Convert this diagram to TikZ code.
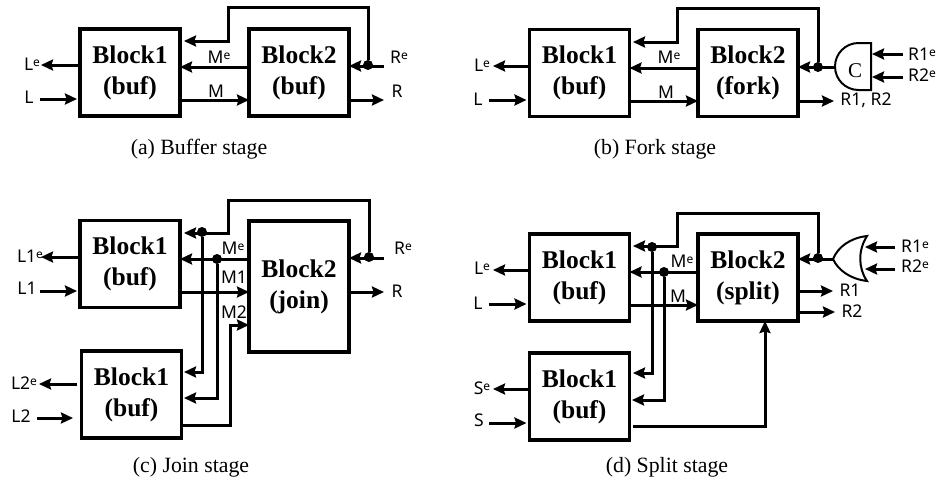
\documentclass[tikz,border=0pt]{standalone}
\usepackage{fontspec}
\setmainfont{Liberation Serif}
\newfontfamily\siglabel{Noto Sans}
\usetikzlibrary{arrows.meta,calc}
\newcommand{\supe}{\raisebox{4pt}{\fontsize{12}{12}\selectfont e}}
\begin{document}
\begin{tikzpicture}[x=1pt,y=-1pt,
  block/.style={draw=black,line width=3.4pt,minimum width=100pt,minimum height=87pt,
                inner sep=0pt,outer sep=0pt,align=center,
                font=\fontsize{25.5}{31}\selectfont\bfseries},
  wire/.style={draw=black,line width=3pt,-{Stealth[length=12pt,width=11pt,inset=1.5pt]}},
  short/.style={shorten >=3pt},
  dot/.style={circle,fill=black,inner sep=0pt,minimum size=10pt},
  sig/.style={inner sep=0pt,font=\siglabel\fontsize{17.5}{18}\selectfont},
  gate/.style={draw=black,line width=2pt},
  stagecap/.style={inner sep=0pt,font=\fontsize{21.8}{24}\selectfont}]
  \useasboundingbox (0,0) rectangle (940,483);

  \node[block] (a1) at (130,72.5) {Block1\\(buf)};
  \node[block] (a2) at (299,72.5) {Block2\\(buf)};
  \node[dot] (aDot) at (368,65) {};
  \coordinate (aTop) at (228,7);
  \coordinate (aFb) at (184,41);
  \coordinate (aMe) at (220,67);
  \coordinate (aM) at (220,100);
  \coordinate (aLo) at (41,65);
  \coordinate (aLi) at (40,99);
  \coordinate (aRe) at (384,66);
  \coordinate (aRo) at (384,100);
  \draw[wire] (aDot) |- (aTop) |- (aFb);
  \draw[wire] (a2.west |- aMe) -- (a1.east |- aMe);
  \draw[wire] (a1.east |- aM) -- (a2.west |- aM);
  \draw[wire] (aLo -| a1.west) -- (aLo);
  \draw[wire,short] (aLi) -- (aLi -| a1.west);
  \draw[wire] (aRe) -- (aRe -| a2.east);
  \draw[wire] (aRo -| a2.east) -- (aRo);
  \node[sig] (aLeT) at (32,64) {L\supe};
  \node[sig] (aLT) at (29,97) {L};
  \node[sig] (aMeT) at (219,57) {M\supe};
  \node[sig] (aMT) at (216,91) {M};
  \node[sig] (aReT) at (399,57) {R\supe};
  \node[sig] (aRT) at (397,91) {R};
  \node[stagecap] (aCap) at (199,149) {(a) Buffer stage};

  \node[block] (b1) at (579.5,73) {Block1\\(buf)};
  \node[block] (b2) at (748,73) {Block2\\(fork)};
  \node[dot] (bDot) at (818,67) {};
  \node[font=\fontsize{21}{24}\selectfont,inner sep=0pt] (bC) at (855,71) {C};
  \draw[gate] (871,43) -- (858.5,43) arc[start angle=90,end angle=270,radius=23.5pt] -- (871,90) -- cycle;
  \coordinate (bTop) at (677,8);
  \coordinate (bFb) at (633,42);
  \coordinate (bMe) at (660,68);
  \coordinate (bM) at (660,101);
  \coordinate (bLo) at (493,66);
  \coordinate (bLi) at (489,100);
  \coordinate (bGo) at (835,67);
  \coordinate (bRo) at (834,101);
  \coordinate (bRa) at (903,54);
  \coordinate (bGa) at (872,54);
  \coordinate (bRb) at (903,77);
  \coordinate (bGb) at (872,77);
  \draw[wire] (bDot) |- (bTop) |- (bFb);
  \draw[wire] (b2.west |- bMe) -- (b1.east |- bMe);
  \draw[wire] (b1.east |- bM) -- (b2.west |- bM);
  \draw[wire] (bLo -| b1.west) -- (bLo);
  \draw[wire,short] (bLi) -- (bLi -| b1.west);
  \draw[wire] (bGo) -- (bGo -| b2.east);
  \draw[wire] (bRo -| b2.east) -- (bRo);
  \draw[wire] (bRa) -- (bGa);
  \draw[wire] (bRb) -- (bGb);
  \node[sig] (bLeT) at (482,65) {L\supe};
  \node[sig] (bLT) at (478,99) {L};
  \node[sig] (bMeT) at (669,57) {M\supe};
  \node[sig] (bMT) at (666,92) {M};
  \node[sig] (bR1T) at (922,54) {R1\supe};
  \node[sig] (bR2T) at (922,75) {R2\supe};
  \node[sig] (bRT) at (866,100) {R1, R2};
  \node[stagecap] (bCap) at (655,149) {(b) Fork stage};

  \node[block] (c1) at (130,264) {Block1\\(buf)};
  \node[block,minimum height=131pt] (c2) at (299,286.5) {Block2\\(join)};
  \node[block] (c3) at (131.5,394.5) {Block1\\(buf)};
  \node[dot] (cDot) at (369,257) {};
  \node[dot] (cDotF) at (202,232) {};
  \node[dot] (cDotM) at (217,259) {};
  \coordinate (cTop) at (228,200);
  \coordinate (cFb) at (184,233);
  \coordinate (cFc) at (184,372);
  \coordinate (cMd) at (184,398);
  \coordinate (cM1) at (220,292);
  \coordinate (cMs) at (183,425);
  \coordinate (cMb) at (230,325);
  \coordinate (cLo) at (41,257);
  \coordinate (cLi) at (40,291);
  \coordinate (cKo) at (39,384);
  \coordinate (cKs) at (77,384);
  \coordinate (cKi) at (37,418);
  \coordinate (cKe) at (73,418);
  \coordinate (cRe) at (384,258);
  \coordinate (cRo) at (384,292);
  \draw[wire] (cDot) |- (cTop) |- (cFb);
  \draw[wire] (cDotF) |- (cFc);
  \draw[wire] (c2.west |- cDotM) -- (c1.east |- cDotM);
  \draw[wire] (cDotM) |- (cMd);
  \draw[wire] (c1.east |- cM1) -- (c2.west |- cM1);
  \draw[wire] (cMs) -| (cMb) -- (cMb -| c2.west);
  \draw[wire] (cLo -| c1.west) -- (cLo);
  \draw[wire,short] (cLi) -- (cLi -| c1.west);
  \draw[wire] (cKs) -- (cKo);
  \draw[wire] (cKi) -- (cKe);
  \draw[wire] (cRe) -- (cRe -| c2.east);
  \draw[wire] (cRo -| c2.east) -- (cRo);
  \node[sig] (cLeT) at (30,256) {L1\supe};
  \node[sig] (cLT) at (27,288) {L1};
  \node[sig] (cKeT) at (24,383) {L2\supe};
  \node[sig] (cKT) at (21,416) {L2};
  \node[sig] (cMeT) at (233,248) {M\supe};
  \node[sig] (cM1T) at (234,277) {M1};
  \node[sig] (cM2T) at (234,312) {M2};
  \node[sig] (cReT) at (403,248) {R\supe};
  \node[sig] (cRT) at (397,291) {R};
  \node[stagecap] (cCap) at (191,467) {(c) Join stage};

  \node[block] (d1) at (579.5,277.5) {Block1\\(buf)};
  \node[block] (d2) at (748,277.5) {Block2\\(split)};
  \node[block] (d3) at (579.5,396.5) {Block1\\(buf)};
  \node[dot] (dDot) at (818,258) {};
  \node[dot] (dDotF) at (652,247) {};
  \node[dot] (dDotM) at (664,272) {};
  \draw[gate] (867,236) .. controls (850,238) and (838,247) .. (833,259)
    .. controls (838,270) and (850,279) .. (867,281) .. controls (858,268) and (858,250) .. cycle;
  \coordinate (dTop) at (677,213);
  \coordinate (dFb) at (633,246);
  \coordinate (dFc) at (633,373);
  \coordinate (dMd) at (632,400);
  \coordinate (dM) at (660,305);
  \coordinate (dSel) at (633,426);
  \coordinate (dLo) at (493,270);
  \coordinate (dLi) at (489,304);
  \coordinate (dSo) at (493,389);
  \coordinate (dSi) at (489,423);
  \coordinate (dGo) at (833,259);
  \coordinate (dRo) at (833,291);
  \coordinate (dRp) at (835,312);
  \coordinate (dRa) at (895,247);
  \coordinate (dGa) at (865,247);
  \coordinate (dRb) at (895,269);
  \coordinate (dGb) at (865,269);
  \draw[wire] (dDot) |- (dTop) |- (dFb);
  \draw[wire] (dDotF) |- (dFc);
  \draw[wire] (d2.west |- dDotM) -- (d1.east |- dDotM);
  \draw[wire] (dDotM) |- (dMd);
  \draw[wire] (d1.east |- dM) -- (d2.west |- dM);
  \draw[wire] (dSel) -| ([xshift=17pt]d2.south);
  \draw[wire] (dLo -| d1.west) -- (dLo);
  \draw[wire,short] (dLi) -- (dLi -| d1.west);
  \draw[wire] (dSo -| d3.west) -- (dSo);
  \draw[wire,short] (dSi) -- (dSi -| d3.west);
  \draw[wire] (dGo) -- (dGo -| d2.east);
  \draw[wire] (dRo -| d2.east) -- (dRo);
  \draw[wire] (dRp -| d2.east) -- (dRp);
  \draw[wire] (dRa) -- (dGa);
  \draw[wire] (dRb) -- (dGb);
  \node[sig] (dLeT) at (482,268) {L\supe};
  \node[sig] (dLT) at (478,303) {L};
  \node[sig] (dSeT) at (482,388) {S\supe};
  \node[sig] (dST) at (479,420) {S};
  \node[sig] (dMeT) at (682,261) {M\supe};
  \node[sig] (dMT) at (678,296) {M};
  \node[sig] (dR1T) at (915,246) {R1\supe};
  \node[sig] (dR2T) at (915,266) {R2\supe};
  \node[sig] (dRaT) at (850,290) {R1};
  \node[sig] (dRbT) at (852,311) {R2};
  \node[stagecap] (dCap) at (667,467) {(d) Split stage};
\end{tikzpicture}
\end{document}
